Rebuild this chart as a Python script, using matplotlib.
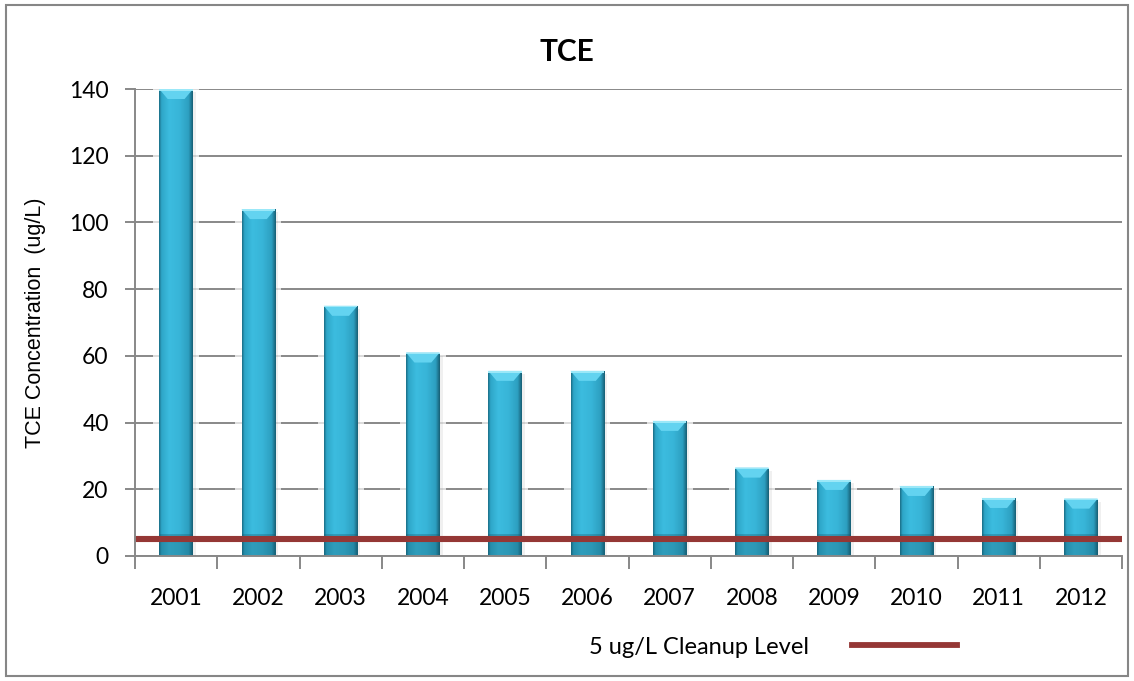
import numpy as np
import matplotlib
matplotlib.use("Agg")
import matplotlib.pyplot as plt
from matplotlib.patches import Rectangle, Polygon
from matplotlib.lines import Line2D
from matplotlib.colors import LinearSegmentedColormap

# TCE concentration by year
years = ["2001", "2002", "2003", "2004", "2005", "2006",
         "2007", "2008", "2009", "2010", "2011", "2012"]
tce = [140, 104, 75, 61, 55.5, 55.5, 40.5, 26.5, 22.8, 21, 17.4, 17.2]
cleanup_level = 5
y_ticks = [0, 20, 40, 60, 80, 100, 120, 140]

tick_font = "Lato"
grid_gray = "#888888"
line_red = "#953735"

fig = plt.figure(figsize=(11.34, 6.81), dpi=100)
W, H = 1134, 681

# outer chart border
fig.patches.append(Rectangle((6 / W, 5 / H), 1122 / W, 671 / H, transform=fig.transFigure,
                             fill=False, edgecolor="#868686", linewidth=1.5, zorder=0))

ax = fig.add_axes([135 / W, 1 - 556 / H, (1122 - 135) / W, (556 - 89) / H])
n = len(years)
x = np.arange(n)
ax.set_xlim(-0.5, n - 0.5)
ax.set_ylim(0, 140)

# bar shading: thin dark edges around a bright cyan body
bar_cmap = LinearSegmentedColormap.from_list(
    "bar", [(0.0, "#1b6f88"), (0.07, "#2ea6c8"), (0.3, "#3cbcdf"), (0.6, "#38b5d8"),
            (0.88, "#2d9fc0"), (1.0, "#185f75")])
grad = np.linspace(0, 1, 96).reshape(1, -1)
bw = 0.41
bars = ax.bar(x, tce, width=bw, color="none", edgecolor="none", zorder=3)
for rect, v in zip(bars, tce):
    x0 = rect.get_x()
    x1 = x0 + rect.get_width()
    w = x1 - x0
    # soft glow behind each bar that fades the gridlines
    ax.add_patch(Rectangle((x0 - 0.075, 0), w + 0.15, v, facecolor="white", alpha=0.7,
                           edgecolor="none", zorder=2))
    ax.add_patch(Rectangle((x1, 0), 0.035, v - 1.0, facecolor="#000000", alpha=0.06,
                           edgecolor="none", zorder=2))
    im = ax.imshow(grad, cmap=bar_cmap, aspect="auto", extent=(x0, x1, 0, v),
                   zorder=3, interpolation="bilinear")
    im.set_clip_path(rect)
    # bevelled top cap
    cap = min(3.0, v * 0.2)
    inset = w * 0.25
    ax.add_patch(Polygon([(x0, v), (x1, v), (x1 - inset, v - cap), (x0 + inset, v - cap)],
                         closed=True, facecolor="#63d3f0", edgecolor="none", zorder=4))
    ax.add_patch(Rectangle((x0, v - 0.5), w, 0.5, facecolor="#9be8f8",
                           edgecolor="none", zorder=4))
    # darker foot of each bar
    ax.add_patch(Rectangle((x0, 0), w, 6.6, facecolor="#13566a", alpha=0.3,
                           edgecolor="none", zorder=4))

# cleanup level line
ax.axhline(cleanup_level, color=line_red, linewidth=4.4, zorder=5)

# grid and spines
ax.set_yticks(y_ticks)
ax.yaxis.grid(True, color=grid_gray, linewidth=1.4, zorder=1)
ax.set_axisbelow(True)
for side in ["top", "right"]:
    ax.spines[side].set_visible(False)
for side in ["left", "bottom"]:
    ax.spines[side].set_color(grid_gray)
    ax.spines[side].set_linewidth(1.4)
    ax.spines[side].set_zorder(6)

ax.tick_params(axis="y", direction="out", length=7, width=1.4, color=grid_gray,
               labelsize=16.5, pad=12)
ax.set_xticks(x)
ax.set_xticklabels(years)
ax.set_xticks(np.arange(-0.5, n, 1.0), minor=True)
ax.tick_params(axis="x", which="major", length=0, labelsize=16.5, pad=23)
ax.tick_params(axis="x", which="minor", direction="out", length=9, width=1.4, color=grid_gray)
for lbl in ax.get_xticklabels() + ax.get_yticklabels():
    lbl.set_fontfamily(tick_font)

ax.set_ylabel("TCE Concentration  (ug/L)", fontsize=15.5, family="Liberation Sans")
ax.yaxis.set_label_coords(-0.09, 0.5)

fig.text(0.5, 1 - 52 / H, "TCE", ha="center", va="center", fontsize=21.5,
         fontweight="bold", family=tick_font)

# legend: label followed by line sample
handle = Line2D([], [], color=line_red, linewidth=4.2)
leg = fig.legend([handle], ["5 ug/L Cleanup Level"], loc="center",
                 bbox_to_anchor=(773 / W, 1 - 647 / H), frameon=False, markerfirst=False,
                 handlelength=4.45, handletextpad=1.8,
                 prop={"family": tick_font, "size": 17})

fig.savefig("out.png", dpi=100)
